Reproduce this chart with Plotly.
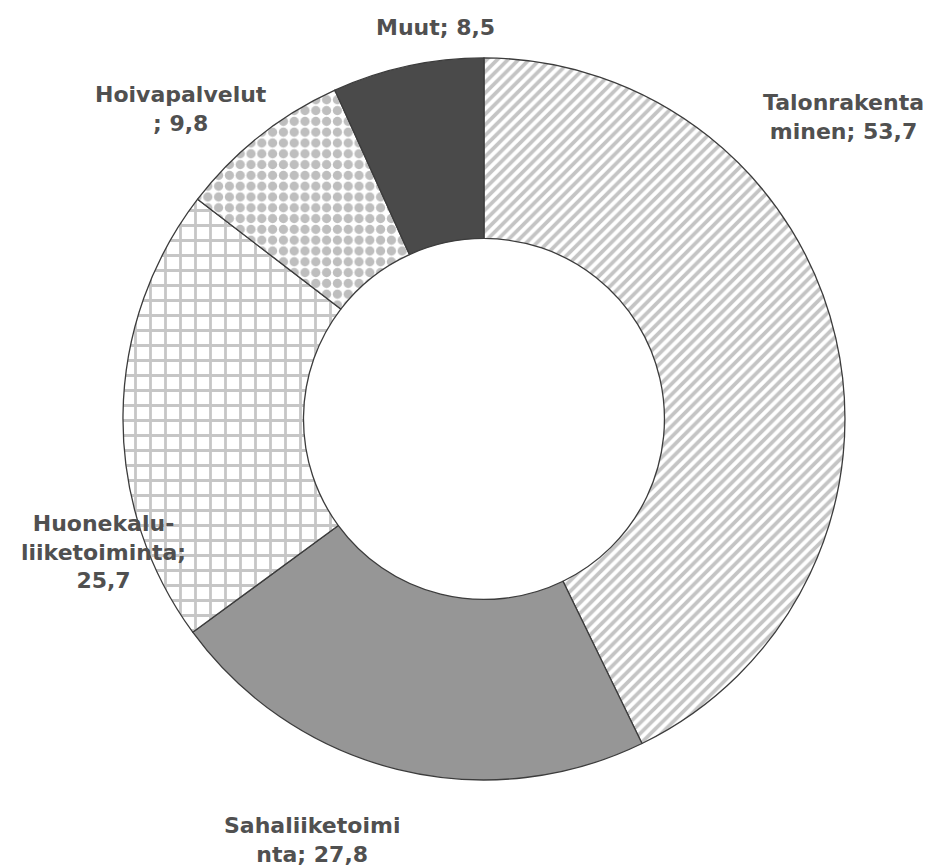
import plotly.graph_objects as go

# Osuudet (%), myötäpäivään klo 12:sta alkaen
categories = ['Talonrakentaminen', 'Sahaliiketoiminta', 'Huonekaluliiketoiminta',
              'Hoivapalvelut', 'Muut']
values = [53.7, 27.8, 25.7, 9.8, 8.5]
label_texts = ['Talonrakenta<br>minen; 53,7',
               'Sahaliiketoimi<br>nta; 27,8',
               'Huonekalu-<br>liiketoiminta;<br>25,7',
               'Hoivapalvelut<br>; 9,8',
               'Muut; 8,5']

fill_colors = ['#ffffff', '#969696', '#ffffff', '#ffffff', '#4a4a4a']
pattern_shapes = ['/', '', '+', '.', '']
pattern_sizes = [7.5, 8, 15, 10.8, 8]
pattern_solidity = [0.5, 0.3, 0.34, 0.58, 0.3]

# etiketit (paperikoordinaatit)
label_x = [0.885, 0.322, 0.101, 0.183, 0.453]
label_y = [0.874, 0.040, 0.372, 0.884, 0.977]

fig = go.Figure()

fig.add_trace(go.Pie(
    labels=categories,
    values=values,
    sort=False,
    direction='clockwise',
    rotation=0,
    hole=0.5,
    textinfo='none',
    hoverinfo='label+value',
    showlegend=False,
    domain=dict(x=[0.1218, 0.8866], y=[0.1096, 0.9424]),
    marker=dict(
        colors=fill_colors,
        line=dict(color='#3c3c3c', width=1.3),
        pattern=dict(
            shape=pattern_shapes,
            size=pattern_sizes,
            solidity=pattern_solidity,
            fgcolor=['#8a8a8a', '#969696', '#8e8e8e', '#7e7e7e', '#4a4a4a'],
            bgcolor=['#ffffff', '#969696', '#ffffff', '#ffffff', '#4a4a4a'],
            fillmode='overlay',
        ),
    ),
))

for txt, x, y in zip(label_texts, label_x, label_y):
    fig.add_annotation(
        x=x, y=y, xref='paper', yref='paper',
        text=f'<b>{txt}</b>', showarrow=False,
        xanchor='center', yanchor='middle', align='center',
        font=dict(family='DejaVu Sans', size=22, color='#505050'),
    )

fig.update_layout(
    width=944, height=867,
    margin=dict(l=0, r=0, t=0, b=0),
    paper_bgcolor='white',
    plot_bgcolor='white',
)

fig.write_html('out.html')
